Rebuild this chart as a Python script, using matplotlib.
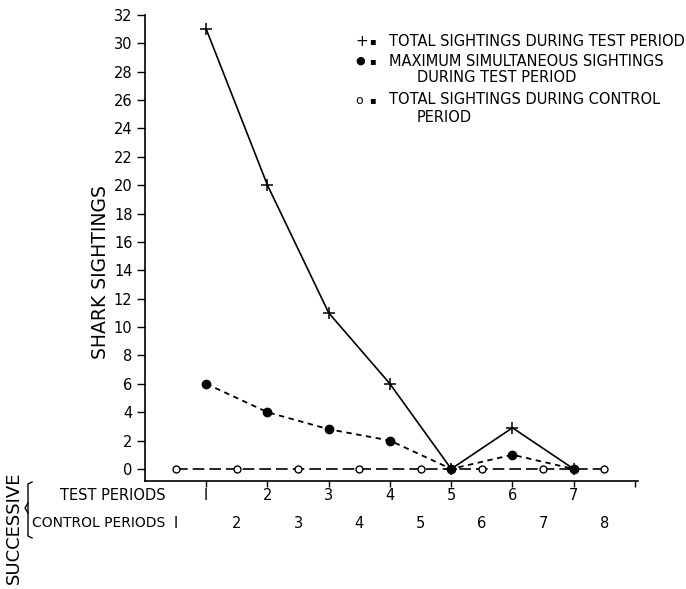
import matplotlib
matplotlib.use("Agg")
import matplotlib.pyplot as plt
from matplotlib.lines import Line2D
from matplotlib.transforms import blended_transform_factory

plt.rcParams['font.family'] = ['DejaVu Sans']

test_periods = [1, 2, 3, 4, 5, 6, 7]
total_test = [31, 20, 11, 6, 0, 2.9, 0]
max_simult = [6, 4, 2.8, 2, 0, 1, 0]
control_periods = [1, 2, 3, 4, 5, 6, 7, 8]
total_control = [0, 0, 0, 0, 0, 0, 0, 0]
yticks = list(range(0, 33, 2))
test_labels = ['I', '2', '3', '4', '5', '6', '7']
control_labels = ['I', '2', '3', '4', '5', '6', '7', '8']

# control period k is positioned halfway before test period k
control_x = [c - 0.5 for c in control_periods]

W, H = 686, 589
fig = plt.figure(figsize=(6.86, 5.89), dpi=100)
ax = fig.add_axes([145 / W, 1 - 481 / H, (638 - 145) / W, (481 - 15) / H])

ax.plot(control_x, total_control, linestyle=(0, (7, 3)), color='black', lw=1.2,
        marker='o', markersize=5, markerfacecolor='white', markeredgecolor='black',
        markeredgewidth=1.0, zorder=2)
ax.plot(test_periods, max_simult, linestyle=(0, (3, 2.5)), color='black', lw=1.3,
        marker='o', markersize=6, markerfacecolor='black', zorder=3)
ax.plot(test_periods, total_test, linestyle='-', color='black', lw=1.2,
        marker='+', markersize=9, markeredgewidth=1.1, zorder=4)

ax.set_xlim(0, 8.05)
ax.set_ylim(-0.85, 32)
ax.set_yticks(yticks)
ax.set_yticklabels([str(v) for v in yticks], fontsize=10.5)
ax.tick_params(axis='y', direction='out', length=6, width=1, pad=3)
ax.set_xticks([1, 2, 3, 4, 5, 6, 7, 8])
ax.set_xticklabels([])
ax.tick_params(axis='x', direction='out', length=4, width=1)
ax.spines['top'].set_visible(False)
ax.spines['right'].set_visible(False)
ax.spines['left'].set_linewidth(1.2)
ax.spines['bottom'].set_linewidth(1.2)

fig.text(100 / W, 1 - 272 / H, 'SHARK SIGHTINGS', rotation=90, ha='center', va='center',
         fontsize=13.5)

trans = blended_transform_factory(ax.transData, fig.transFigure)
for x, lab in zip(test_periods, test_labels):
    ax.text(x, 1 - 495 / H, lab, transform=trans, ha='center', va='center', fontsize=10.5)
for x, lab in zip(control_x, control_labels):
    ax.text(x, 1 - 523 / H, lab, transform=trans, ha='center', va='center', fontsize=10.5)

fig.text(166 / W, 1 - 495 / H, 'TEST PERIODS', ha='right', va='center', fontsize=10.5)
fig.text(165 / W, 1 - 523 / H, 'CONTROL PERIODS', ha='right', va='center', fontsize=10)
fig.text(14 / W, 1 - 528 / H, 'SUCCESSIVE', rotation=90, ha='center', va='center', fontsize=13)

# bracket
bx = 28 / W
fig.add_artist(Line2D([bx + 4 / W, bx, bx, bx + 4 / W],
                      [1 - 482 / H, 1 - 484 / H, 1 - 536 / H, 1 - 538 / H],
                      color='black', lw=1.0, transform=fig.transFigure))
fig.add_artist(Line2D([bx, bx - 3 / W, bx],
                      [1 - 503 / H, 1 - 508 / H, 1 - 513 / H],
                      color='black', lw=1.0, transform=fig.transFigure))

# legend as text
fs = 10.5
fig.text(355 / W, 1 - 41 / H, '+', ha='left', va='center', fontsize=11)
fig.text(369 / W, 1 - 41 / H, '▪', ha='left', va='center', fontsize=7)
fig.text(389 / W, 1 - 41 / H, 'TOTAL SIGHTINGS DURING TEST PERIOD', ha='left', va='center', fontsize=fs)
fig.text(355 / W, 1 - 61 / H, '●', ha='left', va='center', fontsize=8)
fig.text(369 / W, 1 - 61 / H, '▪', ha='left', va='center', fontsize=7)
fig.text(389 / W, 1 - 61 / H, 'MAXIMUM SIMULTANEOUS SIGHTINGS', ha='left', va='center', fontsize=fs)
fig.text(417 / W, 1 - 78 / H, 'DURING TEST PERIOD', ha='left', va='center', fontsize=fs)
fig.text(355 / W, 1 - 100 / H, 'o', ha='left', va='center', fontsize=9)
fig.text(369 / W, 1 - 100 / H, '▪', ha='left', va='center', fontsize=7)
fig.text(389 / W, 1 - 100 / H, 'TOTAL SIGHTINGS DURING CONTROL', ha='left', va='center', fontsize=fs)
fig.text(417 / W, 1 - 117 / H, 'PERIOD', ha='left', va='center', fontsize=fs)

fig.savefig('out.png', dpi=100)
